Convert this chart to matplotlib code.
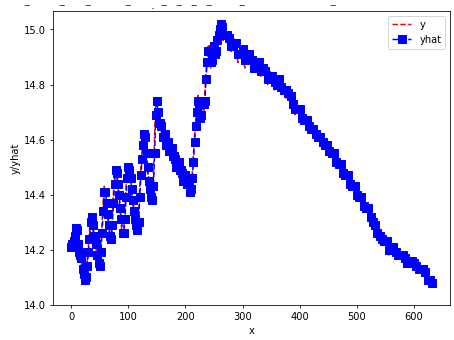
import numpy as np
import matplotlib
matplotlib.use("Agg")
import matplotlib.pyplot as plt

# sample index: dense where the series saw-tooths, coarser on the smooth decline
x_left = np.arange(0, 272, 2)
x_right = np.arange(272, 636, 4)

y_left = [14.20, 14.24, 14.22, 14.27, 14.29, 14.24, 14.20, 14.17, 14.19, 14.14,
          14.12, 14.10, 14.08, 14.11, 14.16, 14.21, 14.27, 14.33, 14.30, 14.27,
          14.23, 14.25, 14.19, 14.16, 14.13, 14.15, 14.22, 14.30, 14.38, 14.43,
          14.39, 14.35, 14.31, 14.27, 14.22, 14.25, 14.33, 14.41, 14.47, 14.50,
          14.46, 14.42, 14.37, 14.33, 14.28, 14.24, 14.27, 14.35, 14.43, 14.48,
          14.51, 14.47, 14.44, 14.40, 14.36, 14.32, 14.30, 14.27, 14.26, 14.34,
          14.43, 14.50, 14.56, 14.60, 14.63, 14.58, 14.52, 14.47, 14.43, 14.40,
          14.38, 14.37, 14.48, 14.62, 14.75, 14.72, 14.68, 14.64, 14.67, 14.62,
          14.59, 14.63, 14.60, 14.56, 14.60, 14.57, 14.54, 14.58, 14.55, 14.52,
          14.55, 14.51, 14.49, 14.53, 14.50, 14.47, 14.50, 14.46, 14.44, 14.48,
          14.45, 14.43, 14.46, 14.42, 14.40, 14.43, 14.48, 14.55, 14.62, 14.67,
          14.72, 14.76, 14.70, 14.66, 14.71, 14.75, 14.70, 14.78, 14.85, 14.90,
          14.94, 14.89, 14.86, 14.91, 14.95, 14.92, 14.89, 14.94, 14.97, 14.99,
          15.01, 15.02, 14.99, 14.96, 14.99, 14.97]

y_right = [14.98,
           14.96, 14.92, 14.97, 14.93, 14.88, 14.94, 14.91, 14.86, 14.92, 14.90,
           14.87, 14.85, 14.90, 14.86, 14.83, 14.88, 14.83, 14.80, 14.85, 14.82,
           14.78, 14.83, 14.80, 14.76, 14.80, 14.75, 14.78, 14.73, 14.72, 14.69,
           14.72, 14.69, 14.66, 14.68, 14.66, 14.63, 14.65, 14.63, 14.60, 14.62,
           14.60, 14.57, 14.59, 14.56, 14.54, 14.57, 14.53, 14.50, 14.52, 14.49,
           14.46, 14.48, 14.45, 14.42, 14.44, 14.41, 14.38, 14.40, 14.37, 14.34,
           14.36, 14.33, 14.29, 14.31, 14.27, 14.24, 14.26, 14.22, 14.24, 14.21,
           14.18, 14.22, 14.20, 14.17, 14.19, 14.17, 14.18, 14.16, 14.14, 14.17,
           14.14, 14.15, 14.12, 14.14, 14.12, 14.13, 14.10, 14.08, 14.10, 14.06]

yhat_left = [14.21, 14.22, 14.23, 14.25, 14.28, 14.27, 14.22, 14.19, 14.18, 14.17,
             14.13, 14.11, 14.09, 14.10, 14.14, 14.19, 14.24, 14.30, 14.32, 14.29,
             14.25, 14.24, 14.22, 14.18, 14.15, 14.14, 14.19, 14.26, 14.34, 14.41,
             14.41, 14.37, 14.33, 14.29, 14.25, 14.24, 14.29, 14.37, 14.44, 14.49,
             14.48, 14.44, 14.40, 14.35, 14.31, 14.26, 14.26, 14.31, 14.39, 14.46,
             14.50, 14.49, 14.46, 14.42, 14.38, 14.34, 14.31, 14.29, 14.27, 14.30,
             14.39, 14.47, 14.53, 14.58, 14.62, 14.61, 14.55, 14.50, 14.45, 14.42,
             14.39, 14.38, 14.43, 14.55, 14.69, 14.74, 14.70, 14.66, 14.66, 14.65,
             14.61, 14.61, 14.62, 14.58, 14.58, 14.59, 14.56, 14.56, 14.57, 14.54,
             14.54, 14.53, 14.50, 14.51, 14.52, 14.49, 14.49, 14.48, 14.45, 14.46,
             14.47, 14.44, 14.45, 14.44, 14.41, 14.42, 14.46, 14.52, 14.59, 14.65,
             14.70, 14.74, 14.73, 14.68, 14.69, 14.73, 14.73, 14.74, 14.82, 14.88,
             14.92, 14.92, 14.88, 14.89, 14.93, 14.94, 14.91, 14.92, 14.96, 14.98,
             15.00, 15.02, 15.01, 14.98, 14.98, 14.98]

yhat_right = [14.98,
              14.97, 14.94, 14.94, 14.95, 14.91, 14.91, 14.93, 14.89, 14.89, 14.91,
              14.89, 14.86, 14.87, 14.88, 14.85, 14.86, 14.85, 14.82, 14.82, 14.83,
              14.81, 14.80, 14.82, 14.79, 14.78, 14.78, 14.77, 14.76, 14.73, 14.71,
              14.71, 14.71, 14.68, 14.67, 14.67, 14.65, 14.64, 14.64, 14.62, 14.61,
              14.61, 14.59, 14.58, 14.58, 14.56, 14.55, 14.55, 14.52, 14.51, 14.51,
              14.48, 14.47, 14.47, 14.44, 14.43, 14.43, 14.40, 14.39, 14.39, 14.36,
              14.35, 14.35, 14.32, 14.30, 14.29, 14.26, 14.25, 14.24, 14.23, 14.23,
              14.20, 14.20, 14.21, 14.19, 14.18, 14.18, 14.18, 14.17, 14.15, 14.16,
              14.16, 14.15, 14.14, 14.13, 14.13, 14.13, 14.12, 14.09, 14.09, 14.08]

x = np.concatenate([x_left, x_right])
y = np.array(y_left + y_right)
yhat = np.array(yhat_left + yhat_right)

# fragments of a title cut off by the top edge (pixel x, glyph)
top_marks = [(27, '–'), (62, '–'), (88, '–'), (128, '–'), (153, '.'), (163, '–'),
             (178, '–'), (193, '–'), (208, '–'), (241, '–'), (332, '–')]

fig = plt.figure(figsize=(6.4, 4.8), dpi=71)
ax = fig.add_axes([0.117, 0.104, 0.874, 0.862])

ax.plot(x, y, 'r--', label='y')
ax.plot(x, yhat, 'b--s', markersize=8, label='yhat')

ax.set_xlabel('x')
ax.set_ylabel('y/yhat')
ax.set_yticks([14.0, 14.2, 14.4, 14.6, 14.8, 15.0])
ax.set_xticks([0, 100, 200, 300, 400, 500, 600])
ax.legend(loc='upper right')

for px, glyph in top_marks:
    fig.text(px / 454, 1 - 6 / 341, glyph, ha='center', va='center',
             fontsize=13, color='#444444')

fig.savefig('out.png', dpi=71)
